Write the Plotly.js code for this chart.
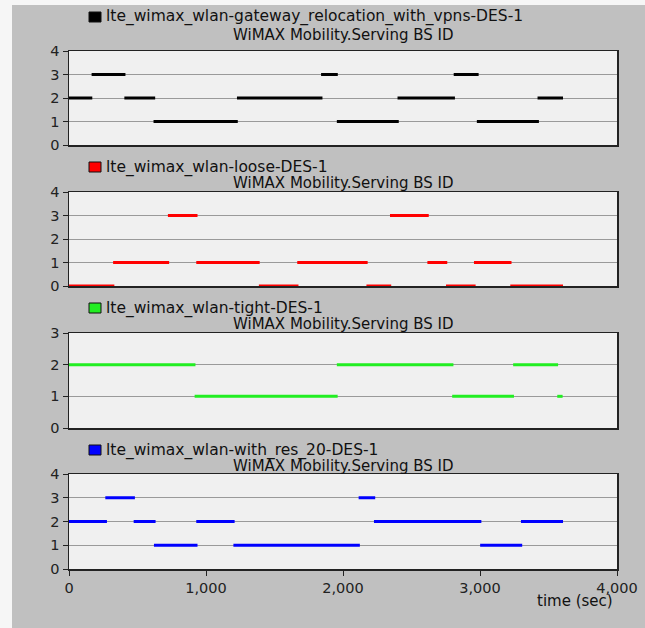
<!DOCTYPE html>
<html>
<head>
<meta charset="utf-8">
<script src="https://cdn.plot.ly/plotly-3.0.1.min.js"></script>
<style>
html,body{margin:0;padding:0;background:#ffffff;}
#chart{width:645px;height:628px;}
</style>
</head>
<body>
<div id="chart"></div>
<script>
// ---- Data (segments of the Serving BS ID step trace) ----
var seriesNames = [
  "lte_wimax_wlan-gateway_relocation_with_vpns-DES-1",
  "lte_wimax_wlan-loose-DES-1",
  "lte_wimax_wlan-tight-DES-1",
  "lte_wimax_wlan-with_res_20-DES-1"
];
var chartTitle = "WiMAX Mobility.Serving BS ID";
var xAxisTitle = "time (sec)";
var xTickVals = [0, 1000, 2000, 3000, 4000];

var gwStart = [0, 165, 404, 617, 1226, 1840, 1955, 2398, 2808, 2977, 3420];
var gwEnd   = [170, 412, 629, 1232, 1850, 1962, 2407, 2817, 2990, 3430, 3606];
var gwValue = [2, 3, 2, 1, 2, 3, 1, 2, 3, 1, 2];

var looseStart = [0, 322, 722, 929, 1386, 1666, 2171, 2343, 2616, 2752, 2956, 3221];
var looseEnd   = [331, 731, 938, 1392, 1675, 2180, 2352, 2626, 2761, 2968, 3230, 3606];
var looseValue = [0, 1, 3, 1, 0, 1, 0, 3, 1, 0, 1, 0];

var tightStart = [0, 917, 1955, 2797, 3242, 3564];
var tightEnd   = [923, 1961, 2806, 3248, 3570, 3603];
var tightValue = [2, 1, 2, 1, 2, 1];

var resStart = [0, 265, 472, 620, 929, 1200, 2114, 2226, 3001, 3299];
var resEnd   = [277, 481, 632, 938, 1209, 2123, 2235, 3010, 3308, 3606];
var resValue = [2, 3, 2, 1, 2, 1, 3, 2, 1, 2];

var seriesColors = ["#000000", "#ff0000", "#22ee22", "#0000ff"];
var yMax = [4, 4, 3, 4];

// ---- Build traces ----
function segs(st, en, val) {
  var x = [], y = [];
  for (var i = 0; i < st.length; i++) {
    x.push(st[i], en[i], null);
    y.push(val[i], val[i], null);
  }
  return {x: x, y: y};
}
var allData = [
  segs(gwStart, gwEnd, gwValue),
  segs(looseStart, looseEnd, looseValue),
  segs(tightStart, tightEnd, tightValue),
  segs(resStart, resEnd, resValue)
];

var traces = allData.map(function (d, i) {
  var s = i === 0 ? "" : String(i + 1);
  return {
    type: "scatter", mode: "lines",
    x: d.x, y: d.y,
    xaxis: "x" + s, yaxis: "y" + s,
    name: seriesNames[i],
    line: {color: seriesColors[i], width: 3},
    connectgaps: false,
    showlegend: false,
    hoverinfo: "x+y"
  };
});

// ---- Layout geometry (pixels) ----
var W = 645, H = 628;
var L = 69, R = 617, T = 51, B = 569;
var pw = R - L, ph = B - T;
function px(p) { return (p - L) / pw; }
function py(p) { return (B - p) / ph; }

var plotTops = [51, 192, 333, 474];
var plotBots = [145, 286, 428, 569];
var legendY = [17, 167, 308, 450];
var titleY = [35, 183, 324, 466];

var fam = "DejaVu Sans, Arial, sans-serif";
var font = {family: fam, size: 15, color: "#111111"};

var layout = {
  width: W, height: H,
  margin: {l: L, r: W - R, t: T, b: H - B, pad: 0},
  paper_bgcolor: "#c0c0c0",
  plot_bgcolor: "#f0f0f0",
  font: font,
  showlegend: false,
  annotations: [],
  shapes: [
    {type: "rect", xref: "paper", yref: "paper", x0: px(-5), x1: px(12), y0: py(640), y1: py(-5),
     fillcolor: "#f6f6f6", line: {width: 0}, layer: "below"},
    {type: "rect", xref: "paper", yref: "paper", x0: px(-5), x1: px(650), y0: py(5), y1: py(-5),
     fillcolor: "#f6f6f6", line: {width: 0}, layer: "below"}
  ]
};

for (var i = 0; i < 4; i++) {
  var s = i === 0 ? "" : String(i + 1);
  var last = i === 3;
  layout["xaxis" + s] = {
    domain: [0, 1], anchor: "y" + s,
    range: [0, 4000], autorange: false,
    showgrid: false, zeroline: false,
    showline: true, mirror: true, linecolor: "#222222", linewidth: 1.5,
    ticks: last ? "outside" : "", ticklen: 5, tickcolor: "#222222",
    tickvals: xTickVals, tickformat: ",d",
    showticklabels: last,
    tickfont: {family: fam, size: 14.5, color: "#222222"},
    fixedrange: true
  };
  layout["yaxis" + s] = {
    domain: [py(plotBots[i]), py(plotTops[i])], anchor: "x" + s,
    range: [0, yMax[i]], autorange: false,
    dtick: 1, tick0: 0,
    showgrid: true, gridcolor: "#9a9a9a", gridwidth: 1,
    zeroline: false,
    showline: true, mirror: true, linecolor: "#222222", linewidth: 1.5,
    ticks: "outside", ticklen: 5, tickcolor: "#222222",
    tickfont: {family: fam, size: 14.5, color: "#222222"},
    fixedrange: true
  };
  // chart title
  layout.annotations.push({
    text: chartTitle, xref: "paper", yref: "paper",
    x: 0.5, y: py(titleY[i]), xanchor: "center", yanchor: "middle",
    showarrow: false, font: {family: fam, size: 15, color: "#111111"}
  });
  // legend entry
  layout.annotations.push({
    text: seriesNames[i], xref: "paper", yref: "paper",
    x: px(104), y: py(legendY[i]), xanchor: "left", yanchor: "middle",
    showarrow: false, font: {family: fam, size: 15.5, color: "#111111"}
  });
  layout.shapes.push({
    type: "rect", xref: "paper", yref: "paper",
    x0: px(89), x1: px(101), y0: py(legendY[i] + 5), y1: py(legendY[i] - 5),
    fillcolor: seriesColors[i], line: {color: "#111111", width: 1}
  });
}

layout.annotations.push({
  text: xAxisTitle, xref: "paper", yref: "paper",
  x: px(615), y: py(601), xanchor: "right", yanchor: "middle",
  showarrow: false, font: {family: fam, size: 15, color: "#111111"}
});

Plotly.newPlot("chart", traces, layout, {displayModeBar: false, staticPlot: true});
</script>
</body>
</html>
